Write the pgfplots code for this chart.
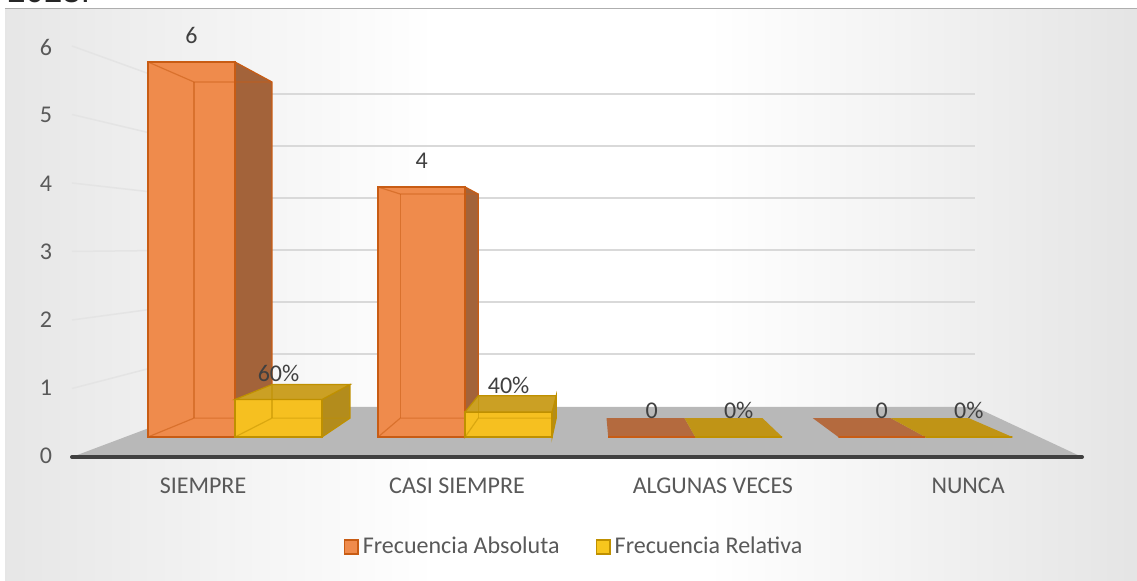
\documentclass[border=0pt]{standalone}
\usepackage{fontspec}
\setmainfont{Carlito}
\newfontfamily\arialfont{Liberation Sans}
\usepackage{pgfplots}
\pgfplotsset{compat=1.18}

\definecolor{oFace}{RGB}{239,139,76}
\definecolor{oEdge}{RGB}{200,92,20}
\definecolor{oSide}{RGB}{163,99,58}
\definecolor{oFlat}{RGB}{180,106,62}
\definecolor{yFace}{RGB}{246,192,32}
\definecolor{yEdge}{RGB}{191,144,0}
\definecolor{yTop}{RGB}{203,160,36}
\definecolor{ySide}{RGB}{179,140,28}
\definecolor{yFlat}{RGB}{192,148,22}
\definecolor{floorc}{RGB}{184,184,184}
\definecolor{axisc}{RGB}{64,64,64}
\definecolor{gridc}{RGB}{217,217,217}
\definecolor{gridl}{RGB}{228,228,228}
\definecolor{labc}{RGB}{89,89,89}
\definecolor{dlabc}{RGB}{64,64,64}
\definecolor{bgL}{RGB}{198,198,198}
\definecolor{bgR}{RGB}{194,194,194}

\pgfdeclarehorizontalshading{chartbg}{100bp}{color(0bp)=(bgL); color(44bp)=(white); color(56bp)=(white); color(100bp)=(bgR)}

\begin{document}
\begin{tikzpicture}
\useasboundingbox (0,0) rectangle (568.5pt,290.5pt);
% chart furniture in pixel coordinates (y downwards)
\begin{scope}[shift={(0pt,290.5pt)},x=0.5pt,y=-0.5pt]
  \fill[white] (0,0) rectangle (1137,581);
  \shade[shading=chartbg] (5,9) rectangle (1137,581);
  \draw[gridc!80!black, line width=0.5pt] (5,9) -- (1137,9);
  \node[anchor=base west, inner sep=0pt, font=\arialfont\fontsize{16.5}{18}\selectfont, text=black!85] at (7,3) {2023.};
  \foreach \v in {1,...,6} {
    \draw[gridl, line width=0.75pt] (72,{457-68.5*\v}) -- (205,{406-52*\v});
    \draw[gridc, line width=0.75pt] (205,{406-52*\v}) -- (975,{406-52*\v});
  }
  \fill[floorc] (72,457) -- (205,407) -- (975,407) -- (1082,457) -- cycle;
  \draw[axisc, line width=2pt, line cap=round] (72,457) -- (1082,457);
\end{scope}

% y tick labels
\begin{axis}[at={(23pt,62.5pt)}, anchor=south west, scale only axis,
  width=40pt, height=204.5pt, xmin=0, xmax=1, ymin=0, ymax=6,
  ytick={0,1,2,3,4,5,6}, xtick=\empty, axis line style={draw=none},
  major tick length=0pt,
  /pgf/number format/assume math mode=true,
  yticklabel style={anchor=center, inner sep=0pt, text=labc, font=\fontsize{12}{14}\selectfont}]
\end{axis}

% bars
\begin{axis}[at={(0pt,0pt)}, anchor=south west, scale only axis,
  width=568.5pt, height=290.5pt,
  xmin=-1.0213, xmax=3.9200, ymin=-2.304, ymax=6.992,
  axis line style={draw=none}, ytick=\empty, major tick length=0pt,
  xtick={-0.139,0.965,2.077,3.186},
  xticklabels={SIEMPRE,CASI SIEMPRE,ALGUNAS VECES,NUNCA},
  xticklabel style={anchor=center, inner sep=0pt, yshift=47.5pt, text=labc, font=\fontsize{12}{14}\selectfont},
  /pgf/number format/assume math mode=true,
  clip=false,
  legend style={at={(0.5057,0.0585)}, anchor=center, draw=none, fill=none,
    legend columns=2, font=\fontsize{12}{14}\selectfont, text=labc,
    /tikz/every even column/.append style={column sep=16pt}},
  legend cell align=left]

% orange side faces
\addplot[forget plot, fill=oSide, draw=oEdge, line width=0.6pt] coordinates {(0,6) (0.1607,5.68) (0.1607,0.3016) (0,0)} -- cycle;
\addplot[forget plot, fill=oSide, draw=oEdge, line width=0.6pt] coordinates {(1,4) (1.0571,3.8872) (1.0571,0.3016) (1,0)} -- cycle;

% flat bars (value 0)
\addplot[forget plot, fill=oFlat, draw=none] coordinates {(1.6219,0) (2.0,0) (1.9535,0.3016) (1.6146,0.3016)} -- cycle;
\addplot[forget plot, fill=yFlat, draw=none] coordinates {(2.0,0) (2.3781,0) (2.2924,0.3016) (1.9535,0.3016)} -- cycle;
\addplot[forget plot, fill=oFlat, draw=none] coordinates {(2.6219,0) (3.0,0) (2.8499,0.3016) (2.5110,0.3016)} -- cycle;
\addplot[forget plot, fill=yFlat, draw=none] coordinates {(3.0,0) (3.3781,0) (3.1889,0.3016) (2.8499,0.3016)} -- cycle;

% orange front faces
\addplot[ybar, bar width=0.3781, bar shift=-0.18905, fill=oFace, draw=oEdge, line width=0.75pt,
  nodes near coords,
  every node near coord/.append style={inner sep=0pt, xshift=-21.75pt, yshift=8.7pt, text=dlabc, font=\fontsize{12}{14}\selectfont},
  legend image code/.code={\draw[fill=oFace, draw=oEdge, line width=0.8pt] (0pt,-3.4pt) rectangle (6.8pt,3.4pt);}]
  coordinates {(0,6) (1,4) (2,0) (3,0)};
\addlegendentry{Frecuencia Absoluta}

% orange inner (back) edges
\addplot[forget plot, draw=oEdge, opacity=0.55, line width=0.6pt] coordinates {(-0.3781,6) (-0.1782,5.68) (0.1607,5.68)};
\addplot[forget plot, draw=oEdge, opacity=0.55, line width=0.6pt] coordinates {(-0.1782,5.68) (-0.1782,0.3016)};
\addplot[forget plot, draw=oEdge, opacity=0.55, line width=0.6pt] coordinates {(-0.3781,0) (-0.1782,0.3016) (0,0.3016)};
\addplot[forget plot, draw=oEdge, opacity=0.55, line width=0.6pt] coordinates {(0.6219,4) (0.7182,3.8872) (1.0571,3.8872)};
\addplot[forget plot, draw=oEdge, opacity=0.55, line width=0.6pt] coordinates {(0.7182,3.8872) (0.7182,0.3016)};
\addplot[forget plot, draw=oEdge, opacity=0.55, line width=0.6pt] coordinates {(0.6219,0) (0.7182,0.3016) (1,0.3016)};

% yellow side faces
\addplot[forget plot, fill=ySide, draw=yEdge, line width=0.6pt] coordinates {(0.3781,0.6) (0.4997,0.8395) (0.4997,0.3016) (0.3781,0)} -- cycle;
\addplot[forget plot, fill=ySide, draw=yEdge, line width=0.6pt] coordinates {(1.3781,0.4) (1.3960,0.6602) (1.3960,0.3016) (1.3781,0)} -- cycle;

% yellow front faces
\addplot[ybar, bar width=0.3781, bar shift=0.18905, fill=yFace, draw=yEdge, line width=0.75pt,
  nodes near coords, point meta=explicit symbolic,
  every node near coord/.append style={inner sep=0pt, xshift=21.75pt, yshift=8.7pt, text=dlabc, font=\fontsize{12}{14}\selectfont},
  legend image code/.code={\draw[fill=yFace!90!yellow, draw=yEdge, line width=0.8pt] (0pt,-3.4pt) rectangle (6.8pt,3.4pt);}]
  coordinates {(0,0.6) [60\%] (1,0.4) [40\%] (2,0) [0\%] (3,0) [0\%]};
\addlegendentry{Frecuencia Relativa}

% yellow top faces
\addplot[forget plot, fill=yTop, draw=yEdge, line width=0.6pt] coordinates {(0,0.6) (0.3781,0.6) (0.4997,0.8395) (0.1607,0.8395)} -- cycle;
\addplot[forget plot, fill=yTop, draw=yEdge, line width=0.6pt] coordinates {(1,0.4) (1.3781,0.4) (1.3960,0.6602) (1.0571,0.6602)} -- cycle;

% yellow inner edges
\addplot[forget plot, draw=yEdge, opacity=0.5, line width=0.6pt] coordinates {(0,0) (0.1607,0.3016) (0.4997,0.3016)};
\addplot[forget plot, draw=yEdge, opacity=0.5, line width=0.6pt] coordinates {(0.1607,0.3016) (0.1607,0.8395)};
\addplot[forget plot, draw=yEdge, opacity=0.5, line width=0.6pt] coordinates {(1,0) (1.0571,0.3016) (1.3960,0.3016)};
\addplot[forget plot, draw=yEdge, opacity=0.5, line width=0.6pt] coordinates {(1.0571,0.3016) (1.0571,0.6602)};
\end{axis}
\end{tikzpicture}
\end{document}
